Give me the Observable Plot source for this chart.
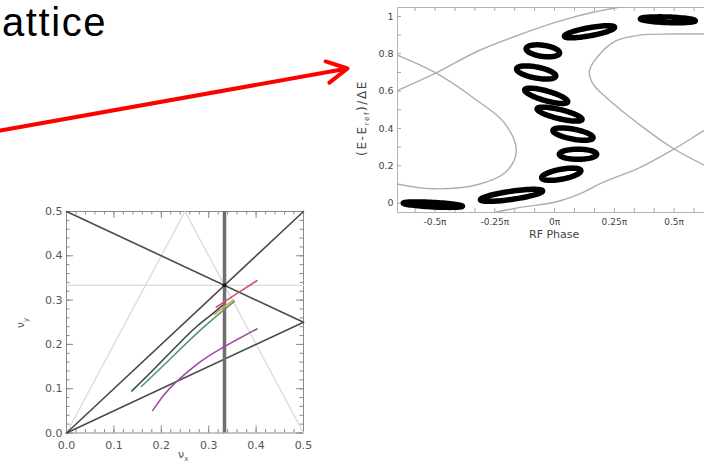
<!DOCTYPE html>
<html><head><meta charset="utf-8">
<script src="https://cdn.jsdelivr.net/npm/d3@7"></script>
<script src="https://cdn.jsdelivr.net/npm/@observablehq/plot@0.6"></script>
<style>
html,body{margin:0;padding:0;background:#fff;}
#page{position:relative;width:704px;height:465px;overflow:hidden;background:#fff;font-family:"Liberation Sans",Arial,sans-serif;}
.abs{position:absolute;}
.abs svg{display:block;overflow:visible;max-width:none !important;}
</style></head><body><div id="page"></div>
<script>
// ---------------- data ----------------
const headline = "attice";

// annotation arrow (page units)
const arrowStart = [0, 130];
const arrowEnd = [347, 68];

// Tune diagram
const tuneTicks = [0, 0.1, 0.2, 0.3, 0.4, 0.5];
const tuneTickLabels = ["0.0", "0.1", "0.2", "0.3", "0.4", "0.5"];
const resonanceSum = [[0, 0.5], [0.5, 0.25]];      // nu_x + 2 nu_y = 1
const resonanceDiag = [[0, 0], [0.5, 0.5]];        // nu_x = nu_y
const resonanceHalf = [[0, 0], [0.5, 0.25]];       // nu_x = 2 nu_y
const faintLeft = [[0, 0], [0.25, 0.5]];
const faintRight = [[0.25, 0.5], [0.5, 0]];
const faintThird = [[0, 1 / 3], [0.5, 1 / 3]];
const thirdInteger = [1 / 3];
const thirdPoint = [[1 / 3, 1 / 3]];
const trackDark = [[0.138, 0.095], [0.19, 0.15], [0.262, 0.228], [0.30, 0.262], [0.329, 0.288]];
const trackGreen = [[0.158, 0.105], [0.21, 0.158], [0.262, 0.212], [0.31, 0.258], [0.354, 0.297]];
const trackOrange = [[0.312, 0.268], [0.333, 0.285], [0.352, 0.300]];
const trackRed = [[0.316, 0.284], [0.36, 0.315], [0.402, 0.344]];
const trackPurple = [[0.182, 0.051], [0.205, 0.085], [0.231, 0.115], [0.275, 0.155], [0.325, 0.19], [0.402, 0.235]];

// Longitudinal phase space
const phaseTicks = [-0.5, -0.25, 0, 0.25, 0.5];
const phaseTickLabels = ["-0.5\u03c0", "-0.25\u03c0", "0\u03c0", "0.25\u03c0", "0.5\u03c0"];
const energyTicks = [0, 0.2, 0.4, 0.6, 0.8, 1];
const energyTickLabels = ["0", "0.2", "0.4", "0.6", "0.8", "1"];
const sepA = [[-0.68, 0.805], [-0.5, 0.70], [-0.33, 0.555], [-0.21, 0.43], [-0.16, 0.28], [-0.205, 0.165], [-0.32, 0.10], [-0.51, 0.077], [-0.68, 0.108]];
const sepB = [[-0.68, 0.59], [-0.5, 0.695], [-0.32, 0.815], [-0.14, 0.905], [0.02, 0.975], [0.17, 1.025], [0.3, 1.055]];
const sepC = [[0.72, 0.145], [0.5, 0.29], [0.356, 0.42], [0.216, 0.566], [0.16, 0.64], [0.146, 0.71], [0.202, 0.816], [0.258, 0.87], [0.356, 0.90], [0.494, 0.906], [0.72, 0.905]];
const sepD = [[-0.36, -0.08], [-0.15, -0.024], [0.0, 0.005], [0.105, 0.05], [0.2, 0.11], [0.356, 0.19], [0.5, 0.29], [0.623, 0.387], [0.72, 0.46]];
// islands: centre phase, centre energy, half-extent in phase, half-extent in energy, shear (dE per dPhase)
const islandPhase = [-0.509, -0.18, 0.028, 0.098, 0.077, 0.021, -0.035, -0.077, -0.049, 0.146, 0.474];
const islandEnergy = [-0.008, 0.042, 0.155, 0.262, 0.37, 0.477, 0.575, 0.70, 0.816, 0.918, 0.982];
const islandHalfPhase = [0.124, 0.130, 0.082, 0.078, 0.084, 0.094, 0.090, 0.082, 0.070, 0.105, 0.115];
const islandHalfEnergy = [0.012, 0.022, 0.027, 0.027, 0.027, 0.025, 0.027, 0.030, 0.030, 0.022, 0.015];
const islandShear = [-0.067, 0.18, 0.226, 0, -0.226, -0.296, -0.343, -0.226, -0.157, 0.226, -0.045];

// ---------------- helpers ----------------
const page = document.getElementById("page");
function place(el, left, top, extra) {
  const d = document.createElement("div");
  d.className = "abs";
  d.style.left = left + "px"; d.style.top = top + "px";
  if (extra) Object.assign(d.style, extra);
  d.appendChild(el);
  page.appendChild(d);
  return d;
}
function html(s, left, top, style) {
  const d = document.createElement("div");
  d.className = "abs";
  d.innerHTML = s;
  d.style.left = left + "px"; d.style.top = top + "px";
  Object.assign(d.style, style || {});
  page.appendChild(d);
  return d;
}
const rows = (pts, z) => pts.map(([x, y]) => ({x, y, z}));

// ---------------- headline ----------------
html(headline, 2, 0, {fontSize: "40px", letterSpacing: "1.6px", color: "#000", fontFamily: "'Liberation Sans', Arial, sans-serif", whiteSpace: "nowrap"});

// ---------------- tune diagram ----------------
{
  const W = 330, H = 275, ml = 66, mr = 27, mt = 21, mb = 32.5;
  const pw = W - ml - mr, ph = H - mt - mb;
  const ux = 0.5 / pw, uy = 0.5 / ph; // data per pixel
  const minor = d3.range(0, 0.5001, 0.02);
  const tickCol = "#8a8a8a";
  const font = "'DejaVu Sans', sans-serif";
  const marks = [
    Plot.frame({stroke: "#8a8a8a"}),
    Plot.ruleX(minor, {x: d => d, y1: 0, y2: 3.5 * uy, stroke: tickCol}),
    Plot.ruleX(minor, {x: d => d, y1: 0.5, y2: 0.5 - 3.5 * uy, stroke: tickCol}),
    Plot.ruleY(minor, {y: d => d, x1: 0, x2: 3.5 * ux, stroke: tickCol}),
    Plot.ruleY(minor, {y: d => d, x1: 0.5, x2: 0.5 - 3.5 * ux, stroke: tickCol}),
    Plot.ruleX(tuneTicks, {x: d => d, y1: 0, y2: 7 * uy, stroke: tickCol}),
    Plot.ruleX(tuneTicks, {x: d => d, y1: 0.5, y2: 0.5 - 7 * uy, stroke: tickCol}),
    Plot.ruleY(tuneTicks, {y: d => d, x1: 0, x2: 7 * ux, stroke: tickCol}),
    Plot.ruleY(tuneTicks, {y: d => d, x1: 0.5, x2: 0.5 - 7 * ux, stroke: tickCol}),
    Plot.line([...rows(faintLeft, "a"), ...rows(faintRight, "b"), ...rows(faintThird, "c")], {x: "x", y: "y", z: "z", stroke: "#dadada", strokeWidth: 1.3}),
    Plot.line([...rows(resonanceSum, "s"), ...rows(resonanceDiag, "d"), ...rows(resonanceHalf, "h")], {x: "x", y: "y", z: "z", stroke: "#4a4a4a", strokeWidth: 1.6}),
    Plot.ruleX(thirdInteger, {x: d => d, y1: 0, y2: 0.5, stroke: "#6e6e6e", strokeWidth: 3.5}),
    Plot.line(rows(trackDark, "k"), {x: "x", y: "y", curve: "natural", stroke: "#3c4a44", strokeWidth: 1.6}),
    Plot.line(rows(trackGreen, "g"), {x: "x", y: "y", curve: "natural", stroke: "#4f9c72", strokeWidth: 1.6}),
    Plot.line(rows(trackOrange, "o"), {x: "x", y: "y", curve: "natural", stroke: "#e3a04e", strokeWidth: 1.6}),
    Plot.line(rows(trackRed, "r"), {x: "x", y: "y", curve: "natural", stroke: "#d24f6c", strokeWidth: 1.6}),
    Plot.line(rows(trackPurple, "p"), {x: "x", y: "y", curve: "natural", stroke: "#a24aa6", strokeWidth: 1.6}),
    Plot.dot(thirdPoint, {x: d => d[0], y: d => d[1], r: 2, fill: "#111"}),
    Plot.text(tuneTicks, {x: d => d, y: 0, dy: 12.5, text: (d, i) => tuneTickLabels[i], fill: "#555", fontSize: 11, fontFamily: font}),
    Plot.text(tuneTicks, {x: 0, y: d => d, dx: -4, textAnchor: "end", text: (d, i) => tuneTickLabels[i], fill: "#555", fontSize: 11, fontFamily: font})
  ];
  const svg = Plot.plot({
    width: W, height: H, marginLeft: ml, marginRight: mr, marginTop: mt, marginBottom: mb,
    x: {domain: [0, 0.5], axis: null},
    y: {domain: [0, 0.5], axis: null},
    style: {background: "transparent", overflow: "visible"},
    marks
  });
  place(svg, 0, 190);
  html("\u03bd<sub style='font-size:7px'>x</sub>", 178, 448, {fontSize: "11px", color: "#555", fontFamily: font});
  html("\u03bd<sub style='font-size:7px'>y</sub>", 22, 323, {fontSize: "11px", color: "#555", fontFamily: font, transform: "translate(-50%,-50%) rotate(-90deg)"});
}

// ---------------- longitudinal phase space ----------------
{
  const W = 400, H = 240, ml = 57, mr = 20, mt = 7, mb = 28;
  const xd = [-0.657, 0.694], yd = [-0.05, 1.048];
  const pw = W - ml - mr, ph = H - mt - mb;
  const ux = (xd[1] - xd[0]) / pw, uy = (yd[1] - yd[0]) / ph;
  const font = "'DejaVu Sans', sans-serif";
  const tickCol = "#a8a8a8";
  const xMinor = d3.range(-7, 9).map(k => k / 12);
  const yMinor = d3.range(0, 11).map(k => k / 10);
  const islands = [];
  islandPhase.forEach((u, i) => {
    d3.range(0, 72).forEach(k => {
      const t = (k / 72) * 2 * Math.PI;
      const dx = islandHalfPhase[i] * Math.cos(t);
      islands.push({x: u + dx, y: islandEnergy[i] + islandHalfEnergy[i] * Math.sin(t) + islandShear[i] * dx, z: i});
    });
  });
  const seps = [...rows(sepA, "A"), ...rows(sepB, "B"), ...rows(sepC, "C"), ...rows(sepD, "D")];
  const marks = [
    Plot.frame({stroke: "#b4b4b4"}),
    Plot.ruleX(xMinor, {x: d => d, y1: yd[0], y2: yd[0] + 4 * uy, stroke: tickCol, clip: true}),
    Plot.ruleX(xMinor, {x: d => d, y1: yd[1], y2: yd[1] - 4 * uy, stroke: tickCol, clip: true}),
    Plot.ruleY(yMinor, {y: d => d, x1: xd[0], x2: xd[0] + 4 * ux, stroke: tickCol}),
    Plot.line(seps, {x: "x", y: "y", z: "z", curve: "catmull-rom", stroke: "#adadad", strokeWidth: 1.4, clip: true}),
    Plot.line(islands, {x: "x", y: "y", z: "z", curve: "linear-closed", stroke: "#000", strokeWidth: 5.5, fill: "none"}),
    Plot.text(phaseTicks, {x: d => d, y: yd[0], dy: 10, text: (d, i) => phaseTickLabels[i], fill: "#444", fontSize: 9, fontFamily: font}),
    Plot.text(energyTicks, {x: xd[0], y: d => d, dx: -4, textAnchor: "end", text: (d, i) => energyTickLabels[i], fill: "#444", fontSize: 9.5, fontFamily: font})
  ];
  const svg = Plot.plot({
    width: W, height: H, marginLeft: ml, marginRight: mr, marginTop: mt, marginBottom: mb,
    x: {domain: xd, axis: null},
    y: {domain: yd, axis: null},
    style: {background: "transparent", overflow: "visible"},
    marks
  });
  svg.style.maxWidth = "none";
  svg.style.width = W + "px";
  svg.style.height = H + "px";
  place(svg, 340, 0);
  html("RF Phase", 529, 229, {fontSize: "11px", lineHeight: "12px", color: "#444", fontFamily: font, whiteSpace: "nowrap"});
  html("(E-E<sub style='font-size:7px'>ref</sub>)/\u0394E", 363, 118, {fontSize: "12px", letterSpacing: "1.6px", color: "#444", fontFamily: font, whiteSpace: "nowrap", transform: "translate(-50%,-50%) rotate(-90deg)"});
}

// ---------------- arrow overlay ----------------
{
  const svg = Plot.plot({
    width: 704, height: 465, margin: 0,
    x: {domain: [0, 704], range: [0, 704], axis: null},
    y: {domain: [0, 465], range: [0, 465], axis: null},
    style: {background: "transparent"},
    marks: [
      Plot.arrow([{x1: arrowStart[0], y1: arrowStart[1], x2: arrowEnd[0], y2: arrowEnd[1]}], {
        x1: "x1", y1: "y1", x2: "x2", y2: "y2", stroke: "#ff0000", strokeWidth: 4, headLength: 8.6, headAngle: 56,
        strokeLinecap: "round", strokeLinejoin: "round"
      })
    ]
  });
  place(svg, 0, 0, {pointerEvents: "none"});
}
</script></body></html>
